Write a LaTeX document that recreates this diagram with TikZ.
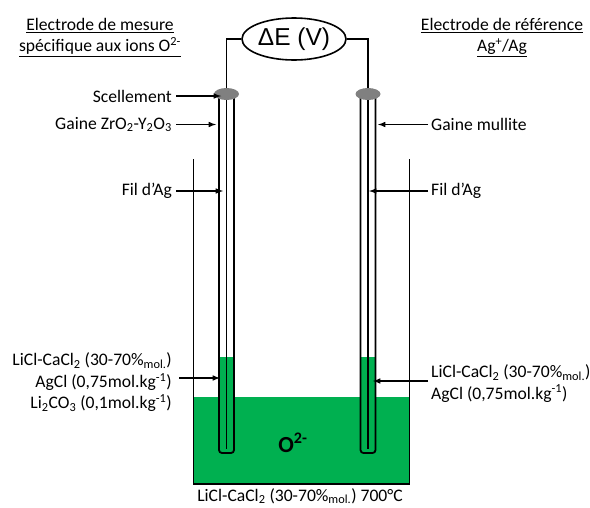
\documentclass[tikz,border=0pt]{standalone}
\usepackage{fontspec}
\usetikzlibrary{shapes.geometric}
\setmainfont{Carlito}
\newfontfamily\arialfont{Liberation Sans}
\definecolor{bain}{RGB}{0,176,80}
\definecolor{joint}{RGB}{128,128,128}
\newcommand{\sub}[1]{\textsubscript{#1}}
\newcommand{\supr}[1]{\textsuperscript{#1}}

\begin{document}
\begin{tikzpicture}[x=1pt, y=-1pt, >=latex,
    wall/.style = {draw,black,line width=1.8pt},
    label/.style = {inner sep=0pt,font=\fontsize{17.6}{21.5}\selectfont},
    seal/.style = {ellipse,fill=joint,minimum width=25pt,minimum height=12pt,inner sep=0pt},
    lead/.style = {->,line width=1.5pt}]
    \useasboundingbox (0,0) rectangle (590,507);
    % bain et tubes
    \fill[bain] (193.5,397) rectangle (409.5,484);
    \fill[bain] (219,357) rectangle (234,397);
    \fill[bain] (360.5,357) rectangle (375.5,397);
    \draw[wall] (193.5,159) -- (193.5,484) -- (409.5,484) -- (409.5,159);
    \draw[wall,rounded corners=3pt] (219,97) -- (219,453) -- (234,453) -- (234,97);
    \draw[wall,rounded corners=3pt] (360.5,97) -- (360.5,453) -- (375.5,453) -- (375.5,97);

    \coordinate (wireL) at (226.5,449);
    \coordinate (wireR) at (368,449);
    \coordinate (cornerL) at (226.5,39);
    \coordinate (cornerR) at (368,39);
    \node[seal] (sealL) at (226.5,94) {};
    \node[seal] (sealR) at (368,94) {};
    \node[draw,ellipse,fill=white,line width=1.6pt,minimum width=104pt,minimum height=42pt,inner sep=0pt,
        font=\arialfont\fontsize{24.5}{24.5}\selectfont] (volt) at (294,39) {ΔE (V)};
    \draw[wall] (volt.west) -- (cornerL) -- (sealL.north);
    \draw[wall] (volt.east) -- (cornerR) -- (sealR.north);
    \draw[wall] (sealL.south) -- (wireL);
    \draw[wall] (sealR.south) -- (wireR);

    % titres
    \node[label,align=center] (titleL) at (100,37.5) {\underline{Electrode de mesure}\\\underline{spécifique aux ions O\supr{2-}}};
    \node[label,align=center] (titleR) at (502,37.5) {\underline{Electrode de référence}\\\underline{Ag\supr{+}/Ag}};

    % legendes
    \node[label,anchor=east] (scel) at (172,96) {Scellement};
    \node[label,anchor=east] (gaineL) at (172,124.5) {Gaine ZrO\sub{2}-Y\sub{2}O\sub{3}};
    \node[label,anchor=east] (filL) at (172,191) {Fil d’Ag};
    \node[label,anchor=east,align=right] (mixL) at (172,382.5) {LiCl-CaCl\sub{2} (30-70\%\sub{mol.})\\AgCl (0,75mol.kg\supr{-1})\\Li\sub{2}CO\sub{3} (0,1mol.kg\supr{-1})};
    \node[label,anchor=west] (gaineR) at (431,124.5) {Gaine mullite};
    \node[label,anchor=west] (filR) at (431,191) {Fil d’Ag};
    \node[label,anchor=west,align=left] (mixR) at (431,383.5) {LiCl-CaCl\sub{2} (30-70\%\sub{mol.})\\AgCl (0,75mol.kg\supr{-1})};
    \node[label] (melt) at (300,496) {LiCl-CaCl\sub{2} (30-70\%\sub{mol.}) 700°C};
    \node[inner sep=0pt,font=\bfseries\fontsize{23}{23}\selectfont] (ion) at (293,443) {O\supr{2-}};

    % fleches
    \coordinate (tipScel) at (221,96);
    \coordinate (tipGaineL) at (216,124.5);
    \coordinate (tipFilL) at (223,191);
    \coordinate (tipMixL) at (220,378);
    \coordinate (tipGaineR) at (378,124.5);
    \coordinate (tipFilR) at (369,191);
    \coordinate (tipMixR) at (373,381);
    \coordinate (tailMixL) at (179,378);
    \coordinate (tailMixR) at (428,381);
    \path[lead] (scel.east) ++(4,0) edge (tipScel);
    \path[lead] (gaineL.east) ++(4,0) edge (tipGaineL);
    \path[lead] (filL.east) ++(4,0) edge (tipFilL);
    \path[lead] (tailMixL) edge (tipMixL);
    \path[lead] (gaineR.west) ++(-3,0) edge (tipGaineR);
    \path[lead] (filR.west) ++(-3,0) edge (tipFilR);
    \path[lead] (tailMixR) edge (tipMixR);
\end{tikzpicture}
\end{document}
